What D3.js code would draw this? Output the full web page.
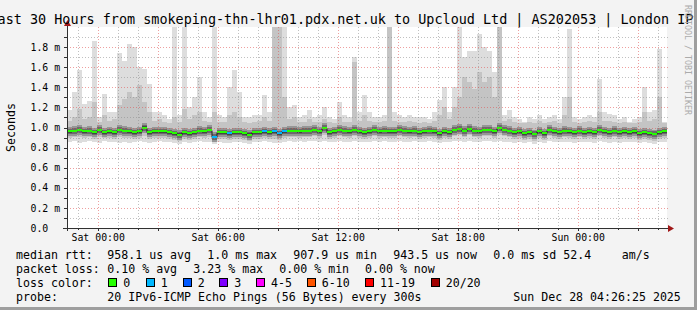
<!DOCTYPE html>
<html>
<head>
<meta charset="utf-8">
<script src="https://cdn.jsdelivr.net/npm/d3@7"></script>
<style>
  html, body { margin: 0; padding: 0; background: #f3f3f3; }
  svg { display: block; font-family: "DejaVu Sans Mono", monospace; }
</style>
</head>
<body>
<svg id="chart" width="697" height="310"></svg>
<script>
/* === SmokePing style latency graph (last 30 hours) === */

// --- data ---
const END_TIME = Date.UTC(2025, 11, 28, 4, 26, 25);
const SPAN_HOURS = 30;
const BIN_MINUTES = 15;

// median rtt per 15 min bin, ms
const medianMs = [
  0.962,0.965,0.975,0.962,0.968,0.952,0.975,0.952,0.962,0.952,
  0.975,0.968,0.962,0.952,0.962,1.000,0.952,0.962,0.962,0.962,
  0.952,0.942,0.929,0.952,0.942,0.952,0.968,0.962,0.975,0.908,
  0.952,0.952,0.942,0.952,0.952,0.942,0.929,0.952,0.952,0.962,
  0.952,0.962,0.942,0.962,0.968,0.968,0.962,0.968,0.968,0.975,
  0.962,0.995,0.952,0.962,0.975,0.968,0.962,0.975,0.962,0.952,
  0.962,0.975,0.962,0.968,0.962,0.962,0.975,0.968,0.962,0.968,
  0.952,0.962,0.968,0.962,0.942,0.962,0.952,0.975,0.985,0.968,
  0.985,0.968,0.962,0.975,0.975,0.962,0.995,0.975,0.968,0.952,
  0.962,0.942,0.952,0.935,0.962,0.942,0.975,0.962,0.952,0.968,
  0.962,0.952,0.968,0.952,0.962,0.952,0.975,0.962,0.952,0.968,
  0.952,0.962,0.952,0.962,0.942,0.952,0.942,0.935,0.952,0.962
];

// lowest ping (p1), ms
const lowMs = [
  0.86,0.87,0.85,0.86,0.87,0.86,0.85,0.87,0.86,0.86,
  0.85,0.86,0.85,0.86,0.87,0.86,0.85,0.86,0.87,0.86,
  0.86,0.85,0.84,0.86,0.85,0.86,0.87,0.86,0.86,0.84,
  0.86,0.85,0.85,0.86,0.86,0.85,0.84,0.86,0.86,0.87,
  0.86,0.85,0.85,0.86,0.87,0.86,0.87,0.86,0.87,0.87,
  0.86,0.87,0.86,0.86,0.87,0.86,0.86,0.87,0.86,0.86,
  0.86,0.87,0.86,0.87,0.86,0.86,0.87,0.86,0.86,0.87,
  0.86,0.86,0.87,0.86,0.85,0.86,0.86,0.87,0.87,0.86,
  0.87,0.86,0.86,0.87,0.87,0.86,0.87,0.86,0.86,0.85,
  0.86,0.85,0.86,0.84,0.86,0.85,0.87,0.86,0.86,0.86,
  0.86,0.85,0.86,0.86,0.86,0.85,0.87,0.86,0.85,0.86,
  0.85,0.86,0.86,0.86,0.85,0.86,0.85,0.84,0.86,0.86
];

// 4th lowest ping (p4), ms
const lowMidMs = [
  0.90,0.91,0.91,0.90,0.91,0.89,0.91,0.90,0.90,0.89,
  0.91,0.90,0.90,0.89,0.90,0.92,0.89,0.90,0.90,0.90,
  0.89,0.88,0.87,0.89,0.88,0.89,0.91,0.90,0.91,0.86,
  0.89,0.89,0.88,0.89,0.89,0.88,0.87,0.89,0.89,0.90,
  0.89,0.89,0.88,0.90,0.91,0.91,0.90,0.91,0.91,0.92,
  0.90,0.93,0.89,0.90,0.92,0.91,0.90,0.92,0.90,0.89,
  0.90,0.92,0.90,0.91,0.90,0.90,0.92,0.91,0.90,0.91,
  0.89,0.90,0.91,0.90,0.88,0.90,0.89,0.92,0.93,0.91,
  0.93,0.91,0.90,0.92,0.92,0.90,0.93,0.92,0.91,0.89,
  0.90,0.88,0.89,0.87,0.90,0.88,0.92,0.90,0.89,0.91,
  0.90,0.89,0.91,0.89,0.90,0.89,0.92,0.90,0.89,0.91,
  0.89,0.90,0.89,0.90,0.88,0.89,0.88,0.87,0.89,0.90
];

// 18th ping (p18), ms
const highMidMs = [
  1.06,1.10,1.18,1.08,1.10,1.25,1.05,1.12,1.06,1.08,
  1.22,1.28,1.35,1.30,1.42,1.25,1.15,1.06,1.08,1.05,
  1.04,1.10,1.05,1.18,1.08,1.12,1.15,1.06,1.05,1.15,
  1.05,1.05,1.12,1.15,1.10,1.05,1.04,1.05,1.06,1.10,
  1.06,2.20,2.20,1.30,1.08,1.10,1.05,1.05,1.08,1.05,
  1.05,1.08,1.05,1.04,1.10,1.05,1.05,1.65,1.06,1.12,
  1.06,1.05,1.05,1.06,2.20,1.06,1.05,1.05,1.06,1.05,
  1.04,1.05,1.04,1.06,1.12,1.20,1.08,1.20,1.30,1.50,
  1.45,1.38,1.55,1.45,1.50,1.30,2.20,1.06,1.08,1.05,
  1.04,1.04,1.05,1.04,1.06,1.04,1.05,1.06,1.04,1.12,
  1.30,1.05,1.04,1.05,1.06,1.05,1.15,1.06,1.06,1.05,
  1.04,1.05,1.04,1.04,1.05,1.15,1.06,1.08,1.30,1.04
];

// highest ping (p20), ms
const maxMs = [
  1.17,1.35,1.57,1.23,1.26,1.86,1.10,1.33,1.15,1.15,
  1.74,1.66,1.83,1.80,1.60,1.58,1.43,1.15,1.15,1.12,
  1.08,2.20,1.12,2.20,1.20,1.30,1.50,1.15,1.10,2.20,
  1.12,1.10,1.40,1.57,1.35,1.10,1.10,1.12,1.12,1.32,
  1.15,2.20,2.20,2.20,1.20,1.22,1.10,1.12,1.17,1.10,
  1.12,1.20,1.10,1.08,1.25,1.12,1.10,1.70,1.15,1.32,
  1.15,1.10,1.10,1.12,2.20,1.15,1.12,1.10,1.12,1.10,
  1.10,1.10,1.08,1.15,1.27,1.40,1.15,1.40,2.20,1.70,
  1.76,1.76,1.93,1.80,1.76,1.55,2.20,1.12,1.17,1.10,
  1.08,1.05,1.10,1.08,1.12,1.08,1.10,1.12,1.08,1.30,
  1.98,1.10,1.08,1.10,1.12,1.10,1.48,1.15,1.13,1.12,
  1.08,1.10,1.05,1.08,1.10,1.40,1.15,1.17,1.78,1.05
];

// bins with lost pings
const lossBins = [29, 32, 39, 41, 42, 43];
const lossCounts = [1, 1, 1, 1, 1, 1];

// inner smoke spread around the median, ms below / above
const coreSpread = [[0.05, 0.045], [0.03, 0.028], [0.014, 0.012]];
const smokeGreys = ["#dddddd", "#c4c4c4", "#969696", "#6b6b6b", "#454545"];

const yTickValues = [0, 0.2, 0.4, 0.6, 0.8, 1.0, 1.2, 1.4, 1.6, 1.8];

const lossColors = ["#26ff00", "#00b8ff", "#0059ff", "#7e00ff", "#ff00ff", "#ff5500", "#ff0000", "#a10000"];
const lossUpper = [0, 1, 2, 3, 5, 10, 19, 20];
const lossLabels = ["0", "1", "2", "3", "4-5", "6-10", "11-19", "20/20"];

const titleText = "Last 30 Hours from smokeping-thn-lhr01.pdx.net.uk to Upcloud Ltd | AS202053 | London IPv6";
const yAxisTitle = "Seconds";
const watermark = "RRDTOOL / TOBI OETIKER";
const rowLabels = ["median rtt:", "packet loss:", "loss color:", "probe:"];
const rttStats = ["958.1 us avg", "1.0 ms max", "907.9 us min", "943.5 us now", "0.0 ms sd", "52.4", "am/s"];
const lossStats = ["0.10 % avg", "3.23 % max", "0.00 % min", "0.00 % now"];
const probeText = "20 IPv6-ICMP Echo Pings (56 Bytes) every 300s";

// --- layout ---
const W = 697, H = 310;
const plot = { left: 67, right: 667, top: 27, bottom: 228 };
const rowY = [258.5, 272.5, 286.5, 300.5];
const rttX = [107.3, 207.3, 293.3, 393.3, 493.3, 563.3, 621.7];
const lossX = [107.3, 193.3, 279.3, 365];
const boxX = [108.3, 145.7, 182.7, 219.3, 256, 306.7, 365, 430.7];

const svg = d3.select("#chart");

const endTime = new Date(END_TIME);
const startTime = new Date(END_TIME - SPAN_HOURS * 3600e3);

const x = d3.scaleUtc().domain([startTime, endTime]).range([plot.left, plot.right]);
const y = d3.scaleLinear().domain([0, 2]).range([plot.bottom, plot.top]);

const lossOf = i => {
  const k = lossBins.indexOf(i);
  return k < 0 ? 0 : lossCounts[k];
};
const lossColor = c => lossColors[lossUpper.findIndex(u => c <= u)];

const bins = medianMs.map((m, i) => ({
  t0: new Date(+startTime + i * BIN_MINUTES * 60e3),
  t1: new Date(+startTime + (i + 1) * BIN_MINUTES * 60e3),
  median: m,
  p1: lowMs[i],
  p4: lowMidMs[i],
  p18: highMidMs[i],
  p20: maxMs[i],
  loss: lossOf(i)
}));

// Background and canvas
svg.append("rect").attr("width", W).attr("height", H).attr("fill", "#f3f3f3");
svg.append("rect")
  .attr("x", plot.left).attr("y", plot.top)
  .attr("width", plot.right - plot.left).attr("height", plot.bottom - plot.top)
  .attr("fill", "#ffffff");

svg.append("clipPath").attr("id", "plot-clip")
  .append("rect")
  .attr("x", plot.left).attr("y", plot.top)
  .attr("width", plot.right - plot.left).attr("height", plot.bottom - plot.top);

// --- Smoke ---
const smokeBands = [
  { lo: d => d.p1, hi: d => d.p20, fill: smokeGreys[0] },
  { lo: d => d.p4, hi: d => d.p18, fill: smokeGreys[1] },
  ...coreSpread.map((s, k) => ({ lo: d => d.median - s[0], hi: d => d.median + s[1], fill: smokeGreys[k + 2] }))
];

const smokeG = svg.append("g").attr("clip-path", "url(#plot-clip)");
smokeBands.forEach(b => {
  smokeG.append("g").selectAll("rect")
    .data(bins)
    .join("rect")
      .attr("x", d => x(d.t0))
      .attr("width", d => x(d.t1) - x(d.t0))
      .attr("y", d => Math.round(y(b.hi(d))))
      .attr("height", d => Math.round(y(b.lo(d))) - Math.round(y(b.hi(d))))
      .attr("fill", b.fill)
      .attr("shape-rendering", "crispEdges");
});

// --- Median ---
const medPoints = bins.map(d => ({ t: d.t0, v: d.median }))
  .concat([{ t: bins[bins.length - 1].t1, v: bins[bins.length - 1].median }]);
const medLine = d3.line()
  .x(d => x(d.t))
  .y(d => Math.round(y(d.v)) + 0.5)
  .curve(d3.curveStepAfter);

smokeG.append("path")
  .attr("d", medLine(medPoints))
  .attr("fill", "none")
  .attr("stroke", "#202020")
  .attr("stroke-width", 1);

smokeG.append("g").selectAll("rect")
  .data(bins)
  .join("rect")
    .attr("x", d => x(d.t0))
    .attr("width", d => x(d.t1) - x(d.t0))
    .attr("y", d => Math.round(y(d.median)) - 1)
    .attr("height", 2)
    .attr("fill", d => lossColor(d.loss))
    .attr("shape-rendering", "crispEdges");

// --- Grid ---
const gridG = svg.append("g").attr("shape-rendering", "crispEdges");
const hours = d3.utcHour.range(startTime, endTime);
const minorHours = hours.filter(t => t.getUTCHours() % 3 !== 0);
const majorHours = hours.filter(t => t.getUTCHours() % 3 === 0);
const labelHours = hours.filter(t => t.getUTCHours() % 6 === 0);

const minorStroke = "rgba(140,140,140,0.55)";
const majorStroke = "rgba(224,80,80,0.55)";

const yMinor = d3.range(1, 20).filter(k => k % 2 === 1).map(k => k / 10);
const yMajor = yTickValues.filter(v => v > 0);

gridG.selectAll("line.xminor")
  .data(minorHours)
  .join("line")
    .attr("x1", d => Math.round(x(d)) + 0.5).attr("x2", d => Math.round(x(d)) + 0.5)
    .attr("y1", plot.top).attr("y2", plot.bottom)
    .attr("stroke", minorStroke).attr("stroke-dasharray", "1,2");

gridG.selectAll("line.yminor")
  .data(yMinor)
  .join("line")
    .attr("x1", plot.left).attr("x2", plot.right + 1)
    .attr("y1", d => Math.round(y(d)) + 0.5).attr("y2", d => Math.round(y(d)) + 0.5)
    .attr("stroke", minorStroke).attr("stroke-dasharray", "1,2");

gridG.selectAll("line.xmajor")
  .data(majorHours)
  .join("line")
    .attr("x1", d => Math.round(x(d)) + 0.5).attr("x2", d => Math.round(x(d)) + 0.5)
    .attr("y1", plot.top).attr("y2", plot.bottom)
    .attr("stroke", majorStroke).attr("stroke-dasharray", "1,2");

gridG.selectAll("line.ymajor")
  .data(yMajor)
  .join("line")
    .attr("x1", plot.left).attr("x2", plot.right + 1)
    .attr("y1", d => Math.round(y(d)) + 0.5).attr("y2", d => Math.round(y(d)) + 0.5)
    .attr("stroke", majorStroke).attr("stroke-dasharray", "1,2");

// --- Axes ---
const axisG = svg.append("g").attr("shape-rendering", "crispEdges");
const axisColor = "#303030";

// tick marks
axisG.selectAll("line.ytick")
  .data(d3.range(0, 20).map(k => k / 10))
  .join("line")
    .attr("x1", plot.left - 3).attr("x2", plot.left)
    .attr("y1", d => Math.round(y(d)) + 0.5).attr("y2", d => Math.round(y(d)) + 0.5)
    .attr("stroke", axisColor);

axisG.selectAll("line.xtick")
  .data(hours)
  .join("line")
    .attr("x1", d => Math.round(x(d)) + 0.5).attr("x2", d => Math.round(x(d)) + 0.5)
    .attr("y1", plot.bottom)
    .attr("y2", d => plot.bottom + (d.getUTCHours() % 3 === 0 ? 3 : 2))
    .attr("stroke", axisColor);

axisG.append("line")
  .attr("x1", plot.left - 4).attr("x2", plot.right + 2)
  .attr("y1", plot.bottom + 0.5).attr("y2", plot.bottom + 0.5)
  .attr("stroke", axisColor);
axisG.append("line")
  .attr("x1", plot.left + 0.5).attr("x2", plot.left + 0.5)
  .attr("y1", plot.bottom + 3).attr("y2", plot.top - 2)
  .attr("stroke", axisColor);

// arrows
const arrowColor = "#a01818";
svg.append("path")
  .attr("d", `M${plot.right + 1},${plot.bottom - 3} L${plot.right + 7},${plot.bottom + 0.5} L${plot.right + 1},${plot.bottom + 4} Z`)
  .attr("fill", arrowColor);
svg.append("path")
  .attr("d", `M${plot.left - 3},${plot.top - 1} L${plot.left + 0.5},${plot.top - 7} L${plot.left + 4},${plot.top - 1} Z`)
  .attr("fill", arrowColor);

// tick labels
const tickFont = 9.85;
const yFmt = v => v === 0 ? "0.0" : d3.format(".1f")(v) + " m";
svg.append("g").selectAll("text")
  .data(yTickValues)
  .join("text")
    .attr("x", 30.5)
    .attr("y", d => y(d) + 3.6)
    .style("font-size", tickFont + "px")
    .attr("fill", "#000")
    .text(yFmt);

const xFmt = d3.utcFormat("%a %H:%M");
svg.append("g").selectAll("text")
  .data(labelHours)
  .join("text")
    .attr("x", d => x(d))
    .attr("y", 241)
    .attr("text-anchor", "middle")
    .style("font-size", tickFont + "px")
    .attr("fill", "#000")
    .text(xFmt);

// --- Titles ---
svg.append("text")
  .attr("x", 349.5).attr("y", 24)
  .attr("text-anchor", "middle")
  .style("font-size", "13.45px")
  .attr("fill", "#000")
  .text(titleText);

svg.append("text")
  .attr("transform", "translate(15,127.5) rotate(-90)")
  .attr("text-anchor", "middle")
  .style("font-size", "11.6px")
  .attr("fill", "#000")
  .text(yAxisTitle);

svg.append("text")
  .attr("transform", "translate(685,5) rotate(90)")
  .style("font-size", "8.3px")
  .attr("fill", "#ababab")
  .text(watermark);

// --- Legend ---
const legendG = svg.append("g").style("font-size", "11.6px").attr("fill", "#000");

rowLabels.forEach((t, r) => {
  legendG.append("text").attr("x", 16).attr("y", rowY[r]).text(t);
});
rttStats.forEach((t, k) => {
  legendG.append("text").attr("x", rttX[k]).attr("y", rowY[0]).text(t);
});
lossStats.forEach((t, k) => {
  legendG.append("text").attr("x", lossX[k]).attr("y", rowY[1]).text(t);
});
lossLabels.forEach((t, k) => {
  legendG.append("rect")
    .attr("x", Math.round(boxX[k]) + 0.5).attr("y", 278.5)
    .attr("width", 8).attr("height", 8)
    .attr("fill", lossColors[k])
    .attr("stroke", "#000").attr("stroke-width", 1);
  legendG.append("text").attr("x", boxX[k] + 15).attr("y", rowY[2]).text(t);
});
legendG.append("text").attr("x", 107.3).attr("y", rowY[3]).text(probeText);
legendG.append("text").attr("x", 513.3).attr("y", rowY[3])
  .text(d3.utcFormat("%a %b %d %H:%M:%S %Y")(endTime));

// --- Frame ---
svg.append("rect").attr("x", W - 3).attr("y", 0).attr("width", 3).attr("height", H).attr("fill", "#9e9e9e");
svg.append("rect").attr("x", 0).attr("y", H - 3).attr("width", W).attr("height", 3).attr("fill", "#9e9e9e");
</script>
</body>
</html>
